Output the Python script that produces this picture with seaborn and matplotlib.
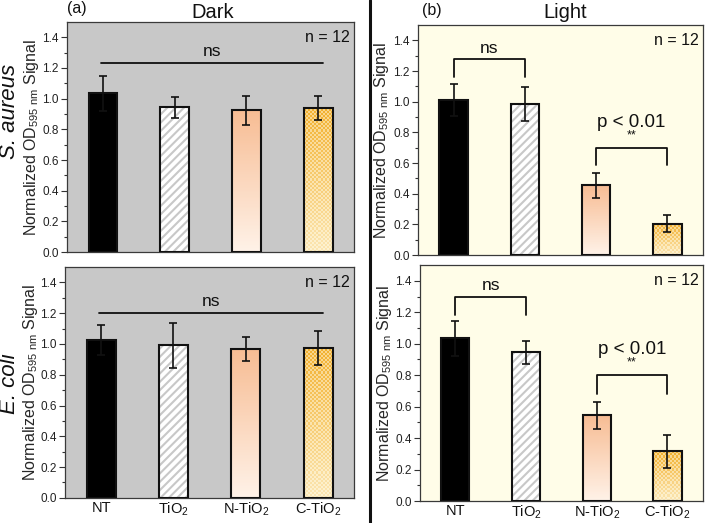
import numpy as np
import pandas as pd
import matplotlib
matplotlib.use("Agg")
import matplotlib.pyplot as plt
from matplotlib.patches import Rectangle
from matplotlib.lines import Line2D
import seaborn as sns

sns.set_theme(style="ticks")
plt.rcParams['font.family'] = ['Liberation Sans', 'DejaVu Sans']
plt.rcParams['mathtext.fontset'] = 'custom'
plt.rcParams['mathtext.rm'] = 'Liberation Sans'
plt.rcParams['mathtext.it'] = 'Liberation Sans:italic'
plt.rcParams['hatch.linewidth'] = 1.5

groups = ['NT', 'TiO$_2$', 'N-TiO$_2$', 'C-TiO$_2$']

# S. aureus, dark / light
sa_dark = [1.035, 0.945, 0.925, 0.940]
sa_dark_err = [0.115, 0.068, 0.095, 0.077]
sa_light = [1.010, 0.985, 0.455, 0.205]
sa_light_err = [0.105, 0.110, 0.080, 0.055]

# E. coli, dark / light
ec_dark = [1.025, 0.990, 0.965, 0.975]
ec_dark_err = [0.095, 0.145, 0.077, 0.110]
ec_light = [1.035, 0.945, 0.545, 0.315]
ec_light_err = [0.110, 0.073, 0.085, 0.105]

DARK_BG = '#C8C8C8'
LIGHT_BG = '#FFFDE8'


def vertical_gradient(top, bottom, n=100):
    t = np.linspace(1, 0, n)[:, None, None]
    top = np.array(top)[None, None, :]
    bottom = np.array(bottom)[None, None, :]
    return bottom + (top - bottom) * t


def checker_gradient(h):
    nr = max(int(h * 76), 4)
    nc = 14
    t = np.linspace(1, 0, nr)[:, None]
    chk = (np.add.outer(np.arange(nr), np.arange(nc)) % 2)[..., None]
    gold = np.array([0.95, 0.69, 0.18])
    pale = np.array([1.0, 0.975, 0.88])
    on = pale + (gold - pale) * (0.25 + 0.75 * t)[..., None]
    off = pale + (gold - pale) * (0.08 + 0.40 * t)[..., None]
    return np.where(chk == 1, on, off)


def style_bars(ax, values):
    for i, patch in enumerate(ax.patches[:4]):
        x0, w, h = patch.get_x(), patch.get_width(), patch.get_height()
        patch.set_edgecolor('#111111')
        patch.set_linewidth(1.5)
        patch.set_zorder(3)
        if i == 0:
            patch.set_facecolor('black')
        elif i == 1:
            under = Rectangle(patch.get_xy(), w, h, facecolor='white', lw=0, zorder=2)
            ax.add_patch(under)
            hatch = Rectangle(patch.get_xy(), w, h, fill=False, hatch='////',
                              edgecolor='#C8C8C8', lw=0, zorder=2.5)
            ax.add_patch(hatch)
            patch.set_facecolor('none')
        else:
            patch.set_facecolor('none')
            if i == 2:
                img = vertical_gradient((0.97, 0.74, 0.58), (1.0, 0.95, 0.91))
            else:
                img = checker_gradient(h)
            im = ax.imshow(img, extent=[x0, x0 + w, 0, h], aspect='auto',
                           interpolation='nearest', zorder=2, origin='upper')
            im.set_clip_path(patch)


def make_panel(ax, values, errs, bg, bottom_row):
    df = pd.DataFrame({'group': groups, 'value': values})
    sns.barplot(data=df, x='group', y='value', ax=ax, width=0.4,
                color='black', errorbar=None)
    style_bars(ax, values)
    ax.errorbar(range(len(values)), values, yerr=errs, fmt='none',
                ecolor='#111111', elinewidth=1.2, capsize=3, capthick=1.2, zorder=4)
    ax.set_facecolor(bg)
    ax.set_xlim(-0.5, 3.5)
    ax.set_ylim(0, 1.5)
    ax.set_yticks(np.arange(0, 1.41, 0.2))
    ax.set_yticks(np.arange(0.1, 1.5, 0.2), minor=True)
    ax.yaxis.set_major_formatter(matplotlib.ticker.FormatStrFormatter('%.1f'))
    ax.tick_params(axis='y', which='major', length=4, width=0.8, labelsize=8.5, pad=2,
                   color='#333333', labelcolor='#222222', direction='out')
    ax.tick_params(axis='y', which='minor', length=2, width=0.8, color='#333333')
    ax.tick_params(axis='x', length=0, labelsize=10.5, pad=2, labelcolor='#111111')
    if not bottom_row:
        ax.set_xticklabels([])
    ax.set_xlabel('')
    ax.set_ylabel('Normalized OD$_{595\\ \\mathrm{nm}}$ Signal', fontsize=11.5)
    for s in ax.spines.values():
        s.set_visible(True)
        s.set_color('#3a3a3a')
        s.set_linewidth(0.9)
    ax.text(0.985, 0.965, 'n = 12', transform=ax.transAxes, ha='right', va='top',
            fontsize=11.5, color='#111111')


fig = plt.figure(figsize=(7.07, 5.23), dpi=100)
ax_tl = fig.add_axes([0.0948, 0.518, 0.406, 0.440])
ax_bl = fig.add_axes([0.0920, 0.048, 0.409, 0.4416])
ax_tr = fig.add_axes([0.5912, 0.5124, 0.403, 0.4398])
ax_br = fig.add_axes([0.5940, 0.042, 0.400, 0.4511])

make_panel(ax_tl, sa_dark, sa_dark_err, DARK_BG, False)
make_panel(ax_bl, ec_dark, ec_dark_err, DARK_BG, True)
make_panel(ax_tr, sa_light, sa_light_err, LIGHT_BG, False)
make_panel(ax_br, ec_light, ec_light_err, LIGHT_BG, True)

ax_tl.yaxis.set_label_coords(-0.092, 0.5)
ax_bl.yaxis.set_label_coords(-0.086, 0.5)
ax_tr.yaxis.set_label_coords(-0.093, 0.5)
ax_br.yaxis.set_label_coords(-0.093, 0.5)

# dark panels: single "ns" line
for ax, yl in [(ax_tl, 1.23), (ax_bl, 1.20)]:
    ax.plot([-0.03, 3.07], [yl, yl], color='#111111', lw=1.3, zorder=5)
    ax.text(1.52, yl + 0.03, 'ns', ha='center', va='bottom', fontsize=12.5, color='#111111')


def bracket(ax, x1, x2, ytop, yleg, label, stars=None):
    ax.plot([x1, x1, x2, x2], [yleg, ytop, ytop, yleg], color='#111111', lw=1.3, zorder=5)
    if stars is None:
        ax.text((x1 + x2) / 2, ytop + 0.02, label, ha='center', va='bottom',
                fontsize=12.5, color='#111111')
    else:
        ax.text((x1 + x2) / 2, ytop + 0.04, stars, ha='center', va='bottom',
                fontsize=9, color='#111111')
        ax.text((x1 + x2) / 2, ytop + 0.11, label, ha='center', va='bottom',
                fontsize=13.5, color='#111111')


bracket(ax_tr, 0, 1, 1.28, 1.16, 'ns')
bracket(ax_tr, 2, 3, 0.70, 0.59, 'p < 0.01', '**')
bracket(ax_br, 0, 1, 1.30, 1.18, 'ns')
bracket(ax_br, 2, 3, 0.80, 0.68, 'p < 0.01', '**')

# species labels
fig.text(0.0135, 1 - 111 / 523, 'S. aureus', rotation=90, ha='center', va='center',
         fontsize=16, style='italic', color='#111111')
fig.text(0.0135, 1 - 384 / 523, 'E. coli', rotation=90, ha='center', va='center',
         fontsize=16, style='italic', color='#111111')

# titles
fig.text(67 / 707, 1 - 9 / 523, '(a)', ha='left', va='center', fontsize=11.5, color='#111111')
fig.text(213 / 707, 1 - 12 / 523, 'Dark', ha='center', va='center', fontsize=14.5, color='#111111')
fig.text(422 / 707, 1 - 10 / 523, '(b)', ha='left', va='center', fontsize=11.5, color='#111111')
fig.text(565 / 707, 1 - 13 / 523, 'Light', ha='center', va='center', fontsize=14.5, color='#111111')

# divider
fig.add_artist(Line2D([370 / 707, 370 / 707], [0, 1], color='#111111', lw=2.2,
                      transform=fig.transFigure))

fig.savefig('out.png', dpi=100)
